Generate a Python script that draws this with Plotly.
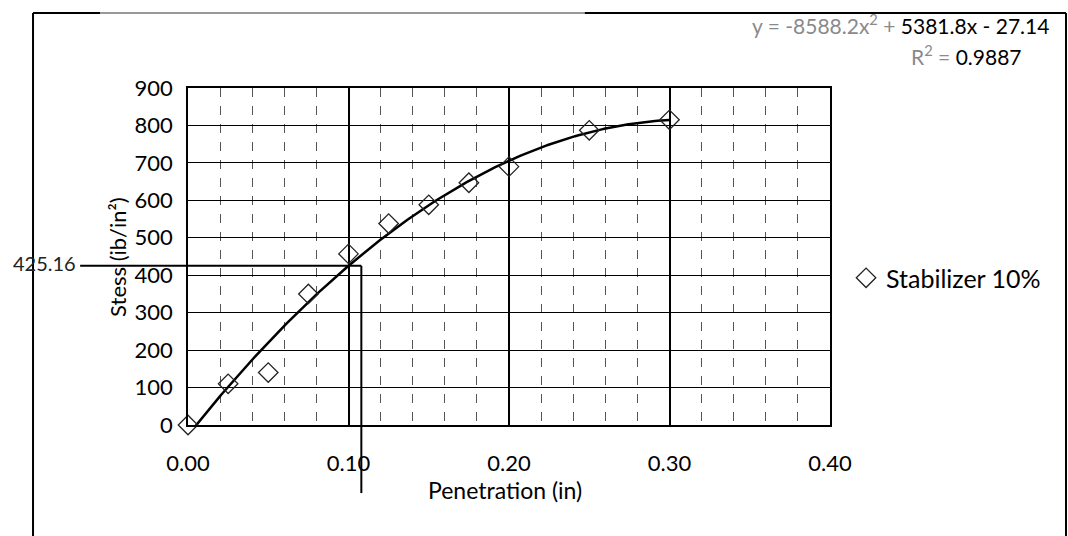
import numpy as np
import plotly.graph_objects as go

# ---- data ----
penetration = [0.0, 0.025, 0.05, 0.075, 0.10, 0.125, 0.15, 0.175, 0.20, 0.25, 0.30]
stress = [0, 110, 140, 350, 457, 538, 588, 647, 690, 787, 815]
series_name = "Stabilizer 10%"

# polynomial trendline stated on the chart
coef_a, coef_b, coef_c = -8588.2, 5381.8, -27.14
r_squared = 0.9887

# reference (read-off) lines
ref_stress = 425.16
ref_pen = 0.108

x_ticks = [0.0, 0.1, 0.2, 0.3, 0.4]
y_ticks = [0, 100, 200, 300, 400, 500, 600, 700, 800, 900]

FONT = "Lato"

trend_x = np.linspace(min(penetration), max(penetration), 200)
trend_y = coef_a * trend_x ** 2 + coef_b * trend_x + coef_c

fig = go.Figure()
fig.add_trace(go.Scatter(
    x=trend_x, y=trend_y, mode="lines",
    line=dict(color="black", width=2.5),
    showlegend=False, hoverinfo="skip"))
fig.add_trace(go.Scatter(
    x=penetration, y=stress, mode="markers", name=series_name,
    marker=dict(symbol="diamond-open", size=15, color="#222",
                line=dict(width=1.3, color="#222")),
    cliponaxis=False))

shapes = []
# read-off lines
shapes.append(dict(type="line", xref="paper", yref="y", x0=-0.168, x1=0, y0=ref_stress, y1=ref_stress,
                   line=dict(color="black", width=2)))
shapes.append(dict(type="line", xref="x", yref="y", x0=0, x1=ref_pen, y0=ref_stress, y1=ref_stress,
                   line=dict(color="black", width=2)))
shapes.append(dict(type="line", xref="x", yref="y", x0=ref_pen, x1=ref_pen, y0=0, y1=ref_stress,
                   line=dict(color="black", width=2)))
shapes.append(dict(type="line", xref="x", yref="paper", x0=ref_pen, x1=ref_pen, y0=-0.202, y1=0,
                   line=dict(color="black", width=2)))
# outer chart frame
L, R, T, B = -0.2414, 1.3676, 1.2226, -0.45
shapes.append(dict(type="line", xref="paper", yref="paper", x0=L, x1=L, y0=B, y1=T,
                   line=dict(color="black", width=2)))
shapes.append(dict(type="line", xref="paper", yref="paper", x0=R, x1=R, y0=B, y1=T,
                   line=dict(color="black", width=2)))
shapes.append(dict(type="line", xref="paper", yref="paper", x0=L, x1=-0.137, y0=T, y1=T,
                   line=dict(color="black", width=2)))
shapes.append(dict(type="line", xref="paper", yref="paper", x0=-0.137, x1=0.618, y0=T, y1=T,
                   line=dict(color="#999999", width=2)))
shapes.append(dict(type="line", xref="paper", yref="paper", x0=0.618, x1=R, y0=T, y1=T,
                   line=dict(color="black", width=2)))

annotations = [
    dict(xref="paper", yref="paper", x=1.345, y=1.19, xanchor="right", yanchor="middle",
         showarrow=False, font=dict(family=FONT, size=21, color="black"),
         text=f'<span style="color:#8a8a8a">y = {coef_a}x<sup>2</sup> + </span>'
              f'{coef_b}x - {abs(coef_c)}'),
    dict(xref="paper", yref="paper", x=1.213, y=1.098, xanchor="center", yanchor="middle",
         showarrow=False, font=dict(family=FONT, size=21, color="black"),
         text=f'<span style="color:#8a8a8a">R<sup>2</sup> = </span>{r_squared}'),
    dict(xref="paper", yref="y", x=-0.172, y=ref_stress + 8, xanchor="right", yanchor="middle",
         showarrow=False, font=dict(family=FONT, size=20, color="#222"),
         text=f"{ref_stress}"),
    dict(xref="paper", yref="paper", x=-0.11, y=0.5, xanchor="center", yanchor="middle",
         textangle=-90, showarrow=False, font=dict(family=FONT, size=22, color="black"),
         text="Stess (ib/in²)"),
    dict(xref="paper", yref="paper", x=0.494, y=-0.193, xanchor="center", yanchor="middle",
         showarrow=False, font=dict(family=FONT, size=23, color="black"),
         text="Penetration (in)"),
]

fig.update_layout(
    width=1068, height=536,
    margin=dict(l=188, r=238, t=88, b=111),
    paper_bgcolor="white", plot_bgcolor="white",
    font=dict(family=FONT, size=22, color="black"),
    shapes=shapes, annotations=annotations,
    showlegend=True,
    legend=dict(x=1.025, y=0.436, xanchor="left", yanchor="middle",
                font=dict(family=FONT, size=25, color="black"),
                bgcolor="rgba(0,0,0,0)", itemwidth=30),
    xaxis=dict(range=[0, 0.4], tickvals=x_ticks, tickformat=".2f",
               showline=True, linecolor="black", linewidth=1.5, mirror=True,
               showgrid=True, gridcolor="black", gridwidth=1.5,
               minor=dict(dtick=0.02, showgrid=True, gridcolor="#555555",
                          griddash="dash", gridwidth=1),
               zeroline=False, ticks="", ticklabelstandoff=18),
    yaxis=dict(range=[0, 900], tickvals=y_ticks,
               showline=True, linecolor="black", linewidth=1.5, mirror=True,
               showgrid=True, gridcolor="black", gridwidth=1.3,
               zeroline=False, ticks="", ticklabelstandoff=9),
)

fig.write_html("out.html")
